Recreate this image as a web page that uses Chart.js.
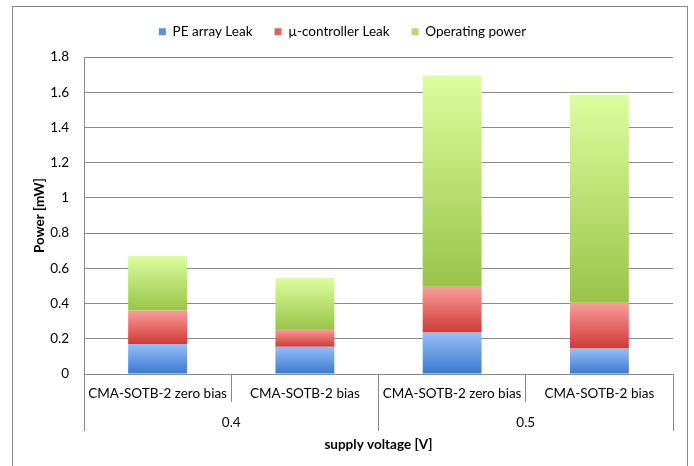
<!DOCTYPE html>
<html>
<head>
<meta charset="utf-8">
<script src="https://cdn.jsdelivr.net/npm/chart.js@4.4.1/dist/chart.umd.min.js"></script>
<style>
  html, body { margin: 0; padding: 0; background: #fff; }
  #wrap { position: relative; width: 694px; height: 466px; overflow: hidden; }
  #frame { position: absolute; left: 12px; top: 6px; width: 674px; height: 480px; border: 1px solid #8a8a8a; }
  #chart { position: absolute; left: 0; top: 0; }
</style>
</head>
<body>
<div id="wrap">
  <div id="frame"></div>
  <canvas id="chart" width="694" height="466"></canvas>
</div>
<script>
// DATA
const configs = ["CMA-SOTB-2 zero bias", "CMA-SOTB-2 bias", "CMA-SOTB-2 zero bias", "CMA-SOTB-2 bias"];
const voltages = ["0.4", "0.5"];
const seriesNames = ["PE array Leak", "µ-controller Leak", "Operating power"];
const peArrayLeak = [0.17, 0.155, 0.235, 0.145];
const controllerLeak = [0.19, 0.10, 0.26, 0.26];
const operatingPower = [0.31, 0.29, 1.20, 1.18];
const yTicks = [0, 0.2, 0.4, 0.6, 0.8, 1, 1.2, 1.4, 1.6, 1.8];

const GRID = "#8a8a8a";
const FONT_SIZE = 13.5;
const fillStops = [
  ["#96bef9", "#3b79cc"],
  ["#fa9d9b", "#ce3a36"],
  ["#dcfe9e", "#99c449"]
];
const legendColors = ["#5b90dd", "#e0605d", "#b7da73"];

Chart.defaults.font.family = "Lato, 'Liberation Sans', sans-serif";
Chart.defaults.font.size = FONT_SIZE;
Chart.defaults.color = "#000";

// each stacked segment gets its own top-to-bottom gradient
function segmentFill(d) {
  return function (ctx) {
    const chart = ctx.chart;
    const y = chart.scales.y;
    if (!y || ctx.type !== "data") return fillStops[d][1];
    const i = ctx.dataIndex;
    let base = 0;
    for (let k = 0; k < d; k++) base += chart.data.datasets[k].data[i];
    const top = base + chart.data.datasets[d].data[i];
    const g = chart.ctx.createLinearGradient(0, y.getPixelForValue(top), 0, y.getPixelForValue(base));
    g.addColorStop(0, fillStops[d][0]);
    g.addColorStop(1, fillStops[d][1]);
    return g;
  };
}

const values = [peArrayLeak, controllerLeak, operatingPower];
const datasets = values.map((v, d) => ({
  label: seriesNames[d],
  data: v,
  xAxisID: "x",
  backgroundColor: segmentFill(d),
  borderWidth: 0,
  barPercentage: 0.4,
  categoryPercentage: 1
}));

// LEGEND HEIGHT
const legendHeight = {
  id: "legendHeight",
  beforeInit(chart) {
    const fit = chart.legend.fit;
    chart.legend.fit = function () {
      fit.bind(chart.legend)();
      this.height = 54;
    };
  }
};

new Chart(document.getElementById("chart"), {
  type: "bar",
  data: { labels: configs, datasets },
  plugins: [legendHeight],
  options: {
    responsive: false,
    animation: false,
    layout: { padding: { left: 12, right: 21, top: 3, bottom: 0 } },
    plugins: {
      tooltip: { enabled: false },
      legend: {
        position: "top",
        labels: {
          boxWidth: 7,
          boxHeight: 7,
          padding: 22,
          font: { size: FONT_SIZE },
          generateLabels: (chart) => chart.data.datasets.map((ds, i) => ({
            text: ds.label,
            fillStyle: legendColors[i],
            strokeStyle: legendColors[i],
            lineWidth: 0,
            hidden: false,
            datasetIndex: i
          }))
        }
      }
    },
    scales: {
      x: {
        type: "category",
        stacked: true,
        position: "bottom",
        weight: 0,
        offset: true,
        grid: { offset: true, drawOnChartArea: false, drawTicks: true, tickLength: 28, color: GRID },
        border: { display: true, color: GRID },
        ticks: { padding: -16, maxRotation: 0, autoSkip: false, font: { size: FONT_SIZE } },
        afterFit(scale) { scale.height = 28; }
      },
      x2: {
        type: "category",
        labels: voltages,
        position: "bottom",
        weight: 1,
        offset: true,
        grid: { offset: true, drawOnChartArea: false, drawTicks: true, tickLength: 29, color: GRID },
        border: { display: false },
        ticks: { padding: -16, maxRotation: 0, autoSkip: false, font: { size: FONT_SIZE } },
        title: { display: true, text: "supply voltage [V]", font: { size: FONT_SIZE, weight: "bold" }, padding: { top: 0, bottom: 13 } },
        afterFit(scale) { scale.height = 64; }
      },
      y: {
        stacked: true,
        min: 0,
        max: 1.8,
        grid: { color: GRID, drawTicks: false },
        border: { display: true, color: GRID },
        ticks: {
          stepSize: 0.2,
          padding: 15,
          font: { size: FONT_SIZE },
          callback: (v) => {
            const t = yTicks.find(t => Math.abs(t - v) < 1e-6);
            return t === undefined ? "" : String(t);
          }
        },
        title: { display: true, text: "Power [mW]", font: { size: FONT_SIZE, weight: "bold" }, padding: { top: 20, bottom: 0 } },
        afterFit(scale) { scale.width = 72; }
      }
    }
  }
});
</script>
</body>
</html>
